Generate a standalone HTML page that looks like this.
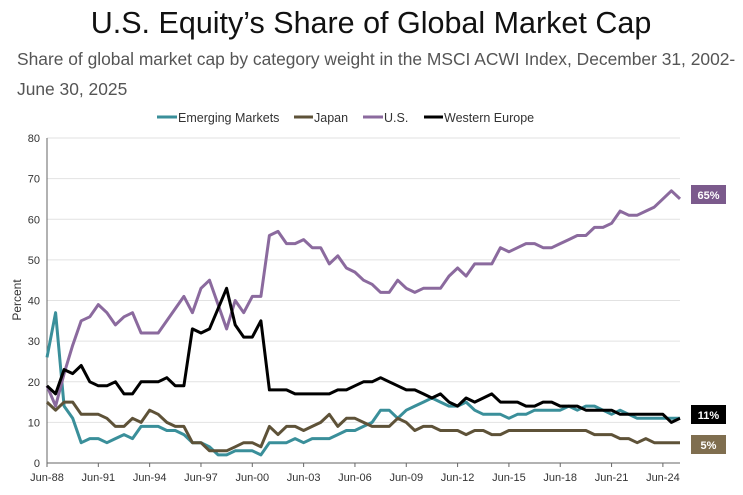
<!DOCTYPE html>
<html><head><meta charset="utf-8"><style>
body{margin:0;width:743px;height:490px;background:#fff;font-family:"Liberation Sans",sans-serif;overflow:hidden}
</style></head><body>
<svg width="743" height="490" xmlns="http://www.w3.org/2000/svg" font-family="Liberation Sans, sans-serif">
<text x="371" y="33" text-anchor="middle" font-size="30.5" fill="#111">U.S. Equity’s Share of Global Market Cap</text>
<text x="17" y="65" font-size="17.4" fill="#555">Share of global market cap by category weight in the MSCI ACWI Index, December 31, 2002-</text>
<text x="17" y="95" font-size="17.4" fill="#555">June 30, 2025</text>
<g font-size="12.5" fill="#333">
<line x1="157" y1="117" x2="177" y2="117" stroke="#3a8f9a" stroke-width="3"/><text x="178" y="122">Emerging Markets</text>
<line x1="294" y1="117" x2="313" y2="117" stroke="#5e5238" stroke-width="3"/><text x="314" y="122">Japan</text>
<line x1="363" y1="117" x2="383" y2="117" stroke="#8b6a9e" stroke-width="3"/><text x="384" y="122">U.S.</text>
<line x1="424" y1="117" x2="443" y2="117" stroke="#000" stroke-width="3"/><text x="444" y="122">Western Europe</text>
</g>
<g id="grid" stroke="#e2e2e2" stroke-width="1"></g>
<g id="ylab" font-size="11" fill="#333" text-anchor="end"></g>
<g id="xlab" font-size="11" fill="#333" text-anchor="middle"></g>
<line x1="47" y1="138" x2="47" y2="463" stroke="#666"/>
<line x1="47" y1="463" x2="680" y2="463" stroke="#666"/>
<text transform="translate(21,300) rotate(-90)" text-anchor="middle" font-size="12" fill="#333">Percent</text>
<g id="series" fill="none" stroke-width="3" stroke-linejoin="round"></g>
<rect x="691" y="185" width="35" height="19" fill="#7b5a8c"/><text x="708.5" y="199" text-anchor="middle" font-size="11" font-weight="bold" fill="#fff">65%</text>
<rect x="691" y="405" width="35" height="19" fill="#000"/><text x="708.5" y="419" text-anchor="middle" font-size="11" font-weight="bold" fill="#fff">11%</text>
<rect x="691" y="435" width="35" height="19" fill="#7f6e4f"/><text x="708.5" y="449" text-anchor="middle" font-size="11" font-weight="bold" fill="#fff">5%</text>
</svg>
<script>
var ns="http://www.w3.org/2000/svg";
function el(p,t,a,txt){var e=document.createElementNS(ns,t);for(var k in a)e.setAttribute(k,a[k]);if(txt!=null)e.textContent=txt;document.getElementById(p).appendChild(e);}
function Y(v){return 463-v*4.0625;}
for(var v=0;v<=80;v+=10){if(v>0)el("grid","line",{x1:47,x2:680,y1:Y(v),y2:Y(v)});el("ylab","text",{x:40,y:Y(v)+4},v);}
var yrs=["88","91","94","97","00","03","06","09","12","15","18","21","24"];
for(var i=0;i<yrs.length;i++){var x=47+i*6*8.554;el("xlab","line",{x1:x,x2:x,y1:463,y2:467,stroke:"#666"});el("xlab","text",{x:x,y:481},"Jun-"+yrs[i]);}
var S={
"#3a8f9a":[26,37,14,11,5,6,6,5,6,7,6,9,9,9,8,8,7,5,5,4,2,2,3,3,3,2,5,5,5,6,5,6,6,6,7,8,8,9,10,13,13,11,13,14,15,16,15,14,14,15,13,12,12,12,11,12,12,13,13,13,13,14,13,14,14,13,12,13,12,11,11,11,11,11,11],
"#5e5238":[15,13,15,15,12,12,12,11,9,9,11,10,13,12,10,9,9,5,5,3,3,3,4,5,5,4,9,7,9,9,8,9,10,12,9,11,11,10,9,9,9,11,10,8,9,9,8,8,8,7,8,8,7,7,8,8,8,8,8,8,8,8,8,8,7,7,7,6,6,5,6,5,5,5,5],
"#8b6a9e":[19,14,22,29,35,36,39,37,34,36,37,32,32,32,35,38,41,37,43,45,39,33,40,37,41,41,56,57,54,54,55,53,53,49,51,48,47,45,44,42,42,45,43,42,43,43,43,46,48,46,49,49,49,53,52,53,54,54,53,53,54,55,56,56,58,58,59,62,61,61,62,63,65,67,65],
"#000":[19,17,23,22,24,20,19,19,20,17,17,20,20,20,21,19,19,33,32,33,38,43,34,31,31,35,18,18,18,17,17,17,17,17,18,18,19,20,20,21,20,19,18,18,17,16,17,15,14,16,15,16,17,15,15,15,14,14,15,15,14,14,14,13,13,13,13,12,12,12,12,12,12,10,11]};
for(var c in S){var d=S[c],p=[];for(var i=0;i<d.length;i++)p.push((47+i*8.554).toFixed(1)+","+Y(d[i]).toFixed(1));el("series","polyline",{points:p.join(" "),stroke:c});}
</script>
</body></html>
